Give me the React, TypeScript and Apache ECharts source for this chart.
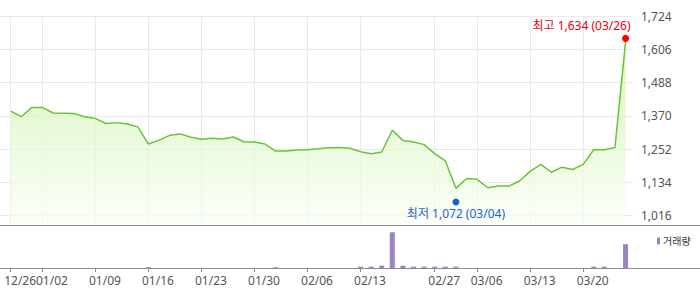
import React, { useEffect, useRef } from "react";
import * as echarts from "echarts";

const dates = ['12/26','12/27','12/28','01/02','01/03','01/04','01/07','01/08','01/09','01/10','01/11','01/14','01/15','01/16','01/17','01/18','01/21','01/22','01/23','01/24','01/25','01/28','01/29','01/30','01/31','02/01','02/04','02/05','02/06','02/07','02/08','02/11','02/12','02/13','02/14','02/15','02/18','02/19','02/25','02/26','02/27','02/28','03/04','03/05','03/06','03/07','03/08','03/11','03/12','03/13','03/14','03/15','03/18','03/19','03/20','03/21','03/22','03/25','03/26'];

const prices = [1387,1367,1400,1400,1380,1379,1378,1367,1361,1343,
  1346,1341,1331,1270,1284,1301,1306,1294,1287,1291,
  1288,1295,1278,1277,1270,1245,1245,1249,1250,1253,
  1257,1258,1255,1243,1236,1242,1319,1283,1277,1268,
  1236,1210,1113,1148,1145,1115,1121,1121,1139,1173,
  1198,1170,1188,1180,1198,1250,1250,1258,1634];

const volumes = [0,0,0,0,0,0,0,0,0,0,
  0,0,0,8,0,0,0,0,0,0,
  0,0,0,0,0,8,0,0,0,0,
  0,0,0,13,13,23,360,23,13,13,
  13,13,13,0,0,0,0,0,0,0,
  0,0,0,0,0,13,13,0,240];

const tickDates = ['12/26','01/02','01/09','01/16','01/23','01/30','02/06','02/13','02/27','03/06','03/13','03/20'];
const yTicks = [1016,1134,1252,1370,1488,1606,1724];

const high = { date: '03/26', value: 1634 };
const low = { date: '03/04', value: 1072 };

const FONT = "'Noto Sans', 'Noto Sans CJK KR', sans-serif";

export default function App() {
  const ref = useRef<HTMLDivElement>(null);
  useEffect(() => {
    document.body.style.margin = "0";
    const chart = echarts.init(ref.current!, null, { renderer: "svg" });
    const tickIdx = tickDates.map((d) => dates.indexOf(d));
    const hiIdx = dates.indexOf(high.date);
    const loIdx = dates.indexOf(low.date);
    const fmt = (v: number) => v.toLocaleString("en-US");
    chart.setOption({
      animation: false,
      textStyle: { fontFamily: FONT },
      grid: [
        { left: 0, right: 67, top: 16, height: 209.3 },
        { left: 0, right: 67, top: 225.3, height: 42.7 },
      ],
      legend: {
        data: ['거래량'],
        left: 652,
        top: 231,
        icon: 'rect',
        itemWidth: 3,
        itemHeight: 7,
        itemGap: 4,
        textStyle: { fontSize: 10, color: '#333', fontFamily: FONT, padding: [0, 0, 0, -2] },
        selectedMode: false,
      },
      xAxis: [
        {
          type: 'value', gridIndex: 0, min: -1, max: 58.7,
          axisLine: { show: false },
          axisLabel: { show: false, customValues: tickIdx },
          axisTick: { show: false, customValues: tickIdx },
          splitLine: { show: true, lineStyle: { color: '#e9e9e9', width: 1 } },
        },
        {
          type: 'value', gridIndex: 1, min: -1, max: 58.7,
          axisLine: { show: false },
          axisLabel: {
            customValues: tickIdx,
            formatter: (v: number) => dates[Math.round(v)] ?? '',
            color: '#555', fontSize: 12, margin: 6,
            padding: [0, 0, 0, 19],
          },
          axisTick: { show: true, customValues: tickIdx, length: 4, lineStyle: { color: '#888' } },
          splitLine: { show: false },
        },
      ],
      yAxis: [
        {
          type: 'value', gridIndex: 0, position: 'right', min: 982, max: 1724,
          axisLine: { show: false },
          axisTick: { show: false, customValues: yTicks },
          axisLabel: { customValues: yTicks, formatter: fmt, color: '#555', fontSize: 12, margin: 8 },
          splitLine: { show: true, lineStyle: { color: '#e9e9e9', width: 1 } },
        },
        {
          type: 'value', gridIndex: 1, min: 0, max: 430,
          show: false,
          splitLine: { show: false },
        },
      ],
      series: [
        {
          type: 'line', name: 'price', xAxisIndex: 0, yAxisIndex: 0,
          data: prices.map((v, i) => [i, v]),
          symbol: 'none',
          lineStyle: { color: '#66c535', width: 1.5 },
          areaStyle: {
            color: {
              type: 'linear', x: 0, y: 16, x2: 0, y2: 225, global: true,
              colorStops: [
                { offset: 0, color: '#c0ee98' },
                { offset: 1, color: '#fafff6' },
              ],
            },
          },
          markPoint: {
            silent: true,
            data: [
              {
                coord: [hiIdx, high.value],
                symbol: 'circle', symbolSize: 7, symbolOffset: [0, -3],
                itemStyle: { color: '#ff0000' },
                label: {
                  show: true, position: 'top', distance: 3, align: 'right', offset: [5, 0],
                  formatter: `최고 ${fmt(high.value)} (${high.date})`,
                  color: '#e8000c', fontSize: 12, fontFamily: FONT,
                },
              },
              {
                coord: [loIdx, low.value],
                symbol: 'circle', symbolSize: 7, symbolOffset: [0, 2],
                itemStyle: { color: '#1a63d6' },
                label: {
                  show: true, position: 'bottom', distance: 2,
                  formatter: `최저 ${fmt(low.value)} (${low.date})`,
                  color: '#2263d0', fontSize: 12, fontFamily: FONT,
                },
              },
            ],
          },
        },
        {
          type: 'bar', name: '거래량', xAxisIndex: 1, yAxisIndex: 1,
          data: volumes.map((v, i) => [i, v]),
          barWidth: 5,
          itemStyle: { color: '#9a84c6' },
        },
      ],
      graphic: [
        { type: 'line', shape: { x1: 0, y1: 225.5, x2: 700, y2: 225.5 }, style: { stroke: '#8c8c8c', lineWidth: 1 }, z: 100 },
        { type: 'line', shape: { x1: 0, y1: 268.5, x2: 700, y2: 268.5 }, style: { stroke: '#8c8c8c', lineWidth: 1 }, z: 100 },
      ],
    });
    return () => chart.dispose();
  }, []);
  return <div ref={ref} style={{ width: 700, height: 289 }} />;
}
